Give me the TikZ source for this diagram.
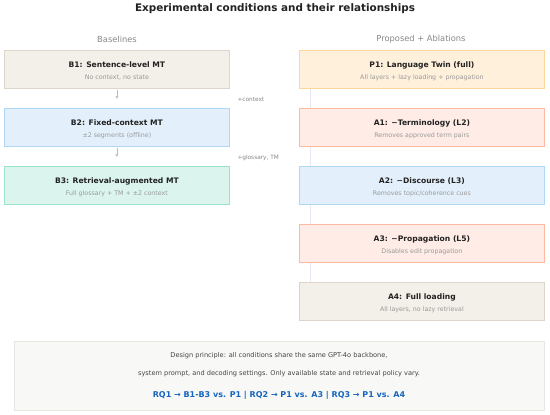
\documentclass[tikz,border=0pt]{standalone}
\usepackage{fontspec}
\setmainfont{DejaVu Sans}
\usetikzlibrary{arrows.meta}
\definecolor{beigeF}{HTML}{F3EFE9}\definecolor{beigeD}{HTML}{DDD5C9}
\definecolor{blueF}{HTML}{E3F0FB}\definecolor{blueD}{HTML}{B0D8F5}
\definecolor{greenF}{HTML}{DBF5EE}\definecolor{greenD}{HTML}{9AE3CC}
\definecolor{orangeF}{HTML}{FFF0DC}\definecolor{orangeD}{HTML}{FFD699}
\definecolor{redF}{HTML}{FFECE6}\definecolor{redD}{HTML}{FFB9A3}
\definecolor{noteF}{HTML}{F8F8F6}\definecolor{noteD}{HTML}{E6E6E2}
\definecolor{titleC}{HTML}{222222}\definecolor{subC}{HTML}{999999}
\definecolor{headC}{HTML}{888888}\definecolor{rqC}{HTML}{1565C0}
\definecolor{arrC}{HTML}{BBBBBB}\definecolor{spineC}{HTML}{E6E6F5}
\tikzset{
  cbox/.style={draw=#1D, fill=#1F, line width=0.8pt, minimum height=38pt, inner sep=0pt, anchor=north west},
  ttl/.style={font=\fontsize{7.6}{9}\selectfont\bfseries, text=titleC},
  sub/.style={font=\fontsize{6.3}{7.5}\selectfont, text=subC},
  head/.style={font=\fontsize{8.3}{10}\selectfont, text=headC},
  side/.style={font=\fontsize{5.8}{7}\selectfont, text=headC, anchor=west},
  flow/.style={draw=arrC, line width=0.8pt, -{Stealth[length=3pt,width=3pt]}},
}
\newcommand{\condbox}[7]{%
  \node[cbox=#2, minimum width=#3pt] (#1) at (#4,#5) {};
  \node[ttl] (#1t) at ([yshift=-15pt]#1.north) {#6};
  \node[sub] (#1s) at ([yshift=-28pt]#1.north) {#7};
}
\begin{document}
\begin{tikzpicture}[x=1pt,y=-1pt]
\path[use as bounding box, fill=white] (0,0) rectangle (550,415);
\node[font=\fontsize{10.4}{12}\selectfont\bfseries, text=titleC] (title) at (275,9) {Experimental conditions and their relationships};
\node[head] (hb) at (117,39) {Baselines};
\node[head] (hp) at (421,39) {Proposed + Ablations};
% spine
\coordinate (sp1) at (310,88);
\coordinate (sp2) at (310,282);
\draw[spineC, line width=1pt] (sp1) -- (sp2);
% baselines
\condbox{b1}{beige}{225}{4}{50}{B1: Sentence-level MT}{No context, no state}
\condbox{b2}{blue}{225}{4}{108}{B2: Fixed-context MT}{±2 segments (offline)}
\condbox{b3}{green}{225}{4}{166}{B3: Retrieval-augmented MT}{Full glossary + TM + ±2 context}
\draw[flow] ([yshift=-1.5pt]b1.south) -- ([yshift=-10pt]b1.south);
\draw[flow] ([yshift=-1.5pt]b2.south) -- ([yshift=-10pt]b2.south);
\node[side] (l1) at (234,100) {+context};
\node[side] (l2) at (234,158) {+glossary, TM};
% proposed
\condbox{p1}{orange}{245}{299}{50}{P1: Language Twin (full)}{All layers + lazy loading + propagation}
\condbox{a1}{red}{245}{299}{108}{A1: −Terminology (L2)}{Removes approved term pairs}
\condbox{a2}{blue}{245}{299}{166}{A2: −Discourse (L3)}{Removes topic/coherence cues}
\condbox{a3}{red}{245}{299}{224}{A3: −Propagation (L5)}{Disables edit propagation}
\condbox{a4}{beige}{245}{299}{282}{A4: Full loading}{All layers, no lazy retrieval}
% note
\node[draw=noteD, fill=noteF, line width=0.8pt, minimum width=530pt, minimum height=69pt, anchor=north west, inner sep=0pt] (note) at (14,341) {};
\node[font=\fontsize{6.6}{8}\selectfont, text=titleC!85] (n1) at (279,356) {Design principle: all conditions share the same GPT-4o backbone,};
\node[font=\fontsize{6.6}{8}\selectfont, text=titleC!85] (n2) at (279,374) {system prompt, and decoding settings. Only available state and retrieval policy vary.};
\node[font=\fontsize{8}{9}\selectfont\bfseries, text=rqC] (n3) at (279,395) {RQ1 → B1-B3 vs. P1 | RQ2 → P1 vs. A3 | RQ3 → P1 vs. A4};
\end{tikzpicture}
\end{document}
